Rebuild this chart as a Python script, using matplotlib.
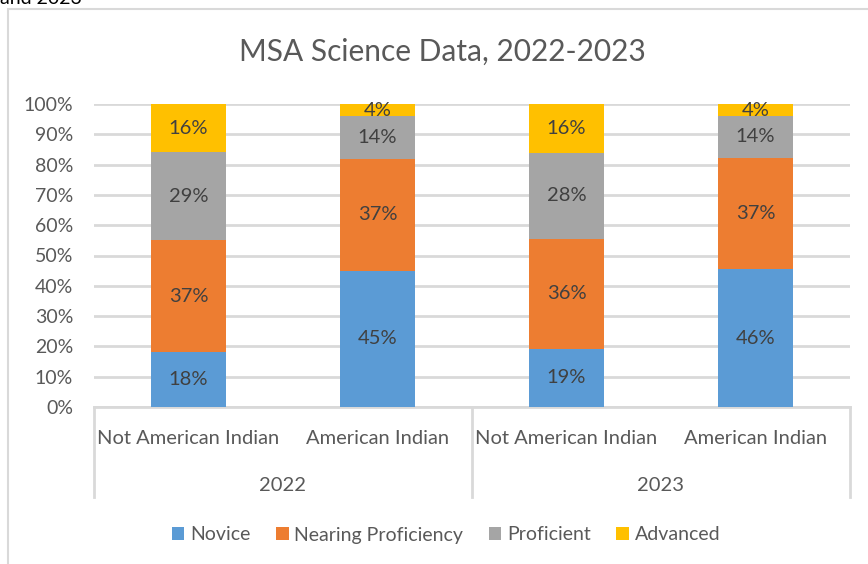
import matplotlib
matplotlib.use("Agg")
import matplotlib.pyplot as plt
from matplotlib.patches import Rectangle
from matplotlib.transforms import blended_transform_factory
import numpy as np

plt.rcParams['font.family'] = ['Lato', 'DejaVu Sans']

title = "MSA Science Data, 2022-2023"
groups = ["Not American Indian", "American Indian", "Not American Indian", "American Indian"]
years = ["2022", "2023"]
series = ["Novice", "Nearing Proficiency", "Proficient", "Advanced"]
novice = [18, 45, 19, 46]
nearing = [37, 37, 36, 37]
proficient = [29, 14, 28, 14]
advanced = [16, 4, 16, 4]
colors = ["#5B9BD5", "#ED7D31", "#A5A5A5", "#FFC000"]
yticks = [0, 10, 20, 30, 40, 50, 60, 70, 80, 90, 100]

W, H = 868, 564
fig = plt.figure(figsize=(W / 100, H / 100), dpi=100)

# cut-off text at top and chart frame
fig.text(0 / W, (H - 4) / H, "and 2023", fontsize=14, color="black", va="baseline", ha="left")
fig.add_artist(Rectangle((8 / W, -0.05), 1.2, (H - 9) / H + 0.05, transform=fig.transFigure,
                         facecolor="white", edgecolor="#D9D9D9", lw=1.5, zorder=0))

ax = fig.add_axes([94 / W, (H - 407) / H, 756 / W, 303 / H])
ax.set_zorder(2)

data = np.array([novice, nearing, proficient, advanced], dtype=float)
totals = data.sum(axis=0)
fracs = data / totals
x = np.arange(len(groups)) + 0.5
bottom = np.zeros(len(groups))
for i, name in enumerate(series):
    ax.bar(x, fracs[i], width=0.4, bottom=bottom, color=colors[i], label=name, zorder=3)
    for j in range(len(groups)):
        ax.text(x[j], bottom[j] + fracs[i][j] / 2, f"{int(data[i][j])}%", ha="center", va="center",
                fontsize=14.5, color="#404040", zorder=4)
    bottom += fracs[i]

ax.set_xlim(0, 4)
ax.set_ylim(0, 1)
ax.set_yticks([v / 100 for v in yticks])
ax.set_yticklabels([f"{v}%" for v in yticks], fontsize=14, color="#595959")
ax.tick_params(axis="y", length=0, pad=15)
ax.set_xticks([])
for s in ax.spines.values():
    s.set_visible(False)
ax.yaxis.grid(True, color="#D9D9D9", lw=2)
ax.set_axisbelow(True)

# hierarchical category axis
tr = blended_transform_factory(ax.transData, ax.transAxes)
ax.plot([0, 4], [0, 0], transform=tr, color="#D9D9D9", lw=2, clip_on=False, zorder=2)
for xv in [0, 2, 4]:
    ax.plot([xv, xv], [0, -0.297], transform=tr, color="#D9D9D9", lw=2, clip_on=False, zorder=2)
for j, g in enumerate(groups):
    ax.text(x[j], -0.104, g, transform=tr, ha="center", va="center", fontsize=14.5, color="#595959")
for k, yr in enumerate(years):
    ax.text(1 + 2 * k, -0.258, yr, transform=tr, ha="center", va="center", fontsize=14.5, color="#595959")

fig.text(442 / W, (H - 52) / H, title, ha="center", va="center", fontsize=21.5, color="#595959")

handles, labels = ax.get_legend_handles_labels()
fig.legend(handles, labels, loc="center", bbox_to_anchor=(446 / W, (H - 535) / H), ncol=4,
           frameon=False, fontsize=14, handlelength=0.65, handleheight=0.65, handletextpad=0.3,
           columnspacing=1.3, labelcolor="#595959")

fig.savefig("out.png", dpi=100)
